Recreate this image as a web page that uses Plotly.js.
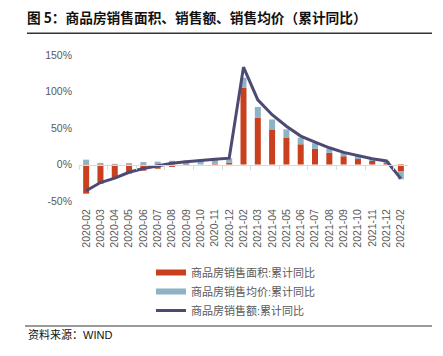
<!DOCTYPE html>
<html>
<head>
<meta charset="utf-8">
<script src="https://cdn.plot.ly/plotly-3.0.1.min.js"></script>
<style>html,body{margin:0;padding:0;background:#fff;}#chart{width:443px;height:356px;}</style>
</head>
<body>
<div id="chart"></div>
<script>
const months = ["2020-02","2020-03","2020-04","2020-05","2020-06","2020-07","2020-08","2020-09","2020-10","2020-11","2020-12",
  "2021-02","2021-03","2021-04","2021-05","2021-06","2021-07","2021-08","2021-09","2021-10","2021-11","2021-12","2022-02"];
const areaYoY   = [-39.9,-26.3,-19.3,-12.3,-8.4,-5.8,-3.3,-1.8,0.0,1.3,2.6,104.9,63.8,48.1,36.3,27.7,21.5,15.9,11.3,7.5,4.8,1.9,-9.6];
const priceYoY  = [6.6,2.2,0.9,1.9,3.3,3.9,5.1,5.6,5.8,5.8,5.9,13.9,15.1,13.6,11.8,8.8,7.6,6.0,4.8,4.0,3.1,2.8,-10.7];
const amountYoY = [-35.9,-24.7,-18.6,-10.6,-5.4,-2.1,1.6,3.7,5.8,7.2,8.7,133.4,88.5,68.2,52.4,38.9,30.7,22.9,16.6,11.8,8.0,4.8,-19.3];
const yTicks = [-50,0,50,100,150];

const names = ["商品房销售面积:累计同比","商品房销售均价:累计同比","商品房销售额:累计同比"];
const cRed = "#C9401F", cBlue = "#8DB3C7", cLine = "#4D4A74";
const FONT = "Liberation Sans, Arial, Noto Sans CJK SC, sans-serif";

const traces = [
  {type:"bar", x:months, y:areaYoY, name:names[0], marker:{color:cRed}, showlegend:false, xaxis:"x", yaxis:"y"},
  {type:"bar", x:months, y:priceYoY, name:names[1], marker:{color:cBlue}, showlegend:false, xaxis:"x", yaxis:"y"},
  {type:"scatter", mode:"lines", x:months, y:amountYoY, name:names[2], line:{color:cLine, width:3}, xaxis:"x2", yaxis:"y", legendrank:3},
  {type:"scatter", mode:"lines", x:[null], y:[null], name:names[0], line:{color:cRed, width:6}, xaxis:"x", yaxis:"y", legendrank:1, hoverinfo:"skip"},
  {type:"scatter", mode:"lines", x:[null], y:[null], name:names[1], line:{color:cBlue, width:6}, xaxis:"x", yaxis:"y", legendrank:2, hoverinfo:"skip"}
];

const layout = {
  width:443, height:356,
  margin:{l:79, r:35, t:55, b:155, autoexpand:false},
  paper_bgcolor:"#fff", plot_bgcolor:"#fff",
  font:{family:FONT, size:10.5, color:"#595959"},
  barmode:"relative", bargap:0.58,
  title:{text:"<b>图 5：商品房销售面积、销售额、销售均价（累计同比）</b>", xref:"container", yref:"container",
         x:27/443, xanchor:"left", y:1-18/356, yanchor:"middle",
         font:{family:"Noto Sans CJK SC, sans-serif", size:13.7, color:"#111"}},
  xaxis:{type:"category", categoryorder:"array", categoryarray:months, range:[-0.5,22.5],
         tickangle:-90, showline:false, showgrid:false, zeroline:false, ticks:"", ticklabelstandoff:5,
         tickfont:{size:10.5, color:"#595959"}},
  xaxis2:{type:"category", categoryorder:"array", categoryarray:months, range:[-0.5,22.5],
          overlaying:"x", anchor:"free", position:0.25, side:"bottom",
          showline:true, linecolor:"#D9D9D9", linewidth:1, ticks:"outside", tickson:"boundaries",
          ticklen:4, tickcolor:"#D9D9D9", showticklabels:false, showgrid:false, zeroline:false},
  yaxis:{range:[-50,150], tickvals:yTicks, ticktext:yTicks.map(v=>v+"%"), showgrid:false, zeroline:false,
         showline:false, ticks:"", ticklabelstandoff:6, tickfont:{size:10.5, color:"#595959"}},
  legend:{xref:"container", yref:"container", x:151/443, y:1-258/356, xanchor:"left", yanchor:"top",
          font:{size:11, color:"#595959"}, bgcolor:"rgba(0,0,0,0)", tracegroupgap:0, itemwidth:30},
  shapes:[
    {type:"line", xref:"paper", yref:"paper", x0:(27-79)/329, x1:(432-79)/329, y0:(201-33.3)/146, y1:(201-33.3)/146,
     line:{color:"#333", width:1.5}},
    {type:"line", xref:"paper", yref:"paper", x0:(25-79)/329, x1:(432-79)/329, y0:(201-326)/146, y1:(201-326)/146,
     line:{color:"#777", width:1.5}}
  ],
  annotations:[
    {text:"资料来源：WIND", xref:"paper", yref:"paper", x:(26-79)/329, y:(201-334)/146, xanchor:"left", yanchor:"middle",
     showarrow:false, font:{family:FONT, size:11, color:"#111"}}
  ]
};
Plotly.newPlot("chart", traces, layout, {displayModeBar:false, staticPlot:true});
</script>
</body>
</html>
